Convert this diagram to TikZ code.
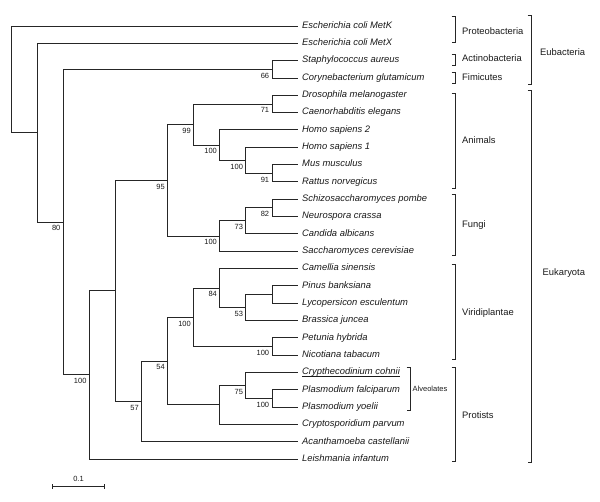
\documentclass[tikz,border=0pt]{standalone}
\usepackage{fontspec}
\setmainfont{Liberation Sans}
\usetikzlibrary{positioning}
\newcommand\ulname[1]{\setbox0\hbox{#1}\rlap{\rule[-1.3pt]{\wd0}{0.5pt}}\box0}
\tikzset{
  leaf/.style={anchor=west, inner xsep=4pt, inner ysep=0pt,
    text height=6.8pt, text depth=2pt,
    font=\fontsize{9.4}{11}\selectfont\itshape},
  boot/.style={anchor=north east, inner xsep=2.6pt, inner ysep=3.4pt,
    font=\fontsize{7.5}{9}\selectfont},
  clade/.style={anchor=west, inner sep=0pt, text height=6.8pt, text depth=2pt,
    font=\fontsize{9.4}{11}\selectfont},
  bracket/.style={draw, line width=0.8pt, black!85},
}

\begin{document}
\begin{tikzpicture}[x=1pt, y=-1pt, text=black!90,
    branch/.style={draw, line width=0.8pt, black!85,
      to path={|- (\tikztotarget) \tikztonodes}}]

      \useasboundingbox (0,0) rectangle (600,502);

      % --- Leaves ---
      \node[leaf] (metK) at (298,26.0) {Escherichia coli MetK};
      \node[leaf] (metX) at (298,43.3) {Escherichia coli MetX};
      \node[leaf] (staph) at (298,60.6) {Staphylococcus aureus};
      \node[leaf] (coryne) at (298,78.0) {Corynebacterium glutamicum};
      \node[leaf] (droso) at (298,95.3) {Drosophila melanogaster};
      \node[leaf] (caeno) at (298,112.6) {Caenorhabditis elegans};
      \node[leaf] (homoB) at (298,129.9) {Homo sapiens 2};
      \node[leaf] (homoA) at (298,147.2) {Homo sapiens 1};
      \node[leaf] (mus) at (298,164.6) {Mus musculus};
      \node[leaf] (rattus) at (298,181.9) {Rattus norvegicus};
      \node[leaf] (schizo) at (298,199.2) {Schizosaccharomyces pombe};
      \node[leaf] (neuro) at (298,216.5) {Neurospora crassa};
      \node[leaf] (candida) at (298,233.8) {Candida albicans};
      \node[leaf] (sacch) at (298,251.2) {Saccharomyces cerevisiae};
      \node[leaf] (camellia) at (298,268.5) {Camellia sinensis};
      \node[leaf] (pinus) at (298,285.8) {Pinus banksiana};
      \node[leaf] (lyco) at (298,303.1) {Lycopersicon esculentum};
      \node[leaf] (brassica) at (298,320.4) {Brassica juncea};
      \node[leaf] (petunia) at (298,337.8) {Petunia hybrida};
      \node[leaf] (nicotiana) at (298,355.1) {Nicotiana tabacum};
      \node[leaf] (crypthe) at (298,372.4) {\ulname{Crypthecodinium cohnii}};
      \node[leaf] (pfalc) at (298,389.7) {Plasmodium falciparum};
      \node[leaf] (pyoel) at (298,407.0) {Plasmodium yoelii};
      \node[leaf] (cparvum) at (298,424.4) {Cryptosporidium parvum};
      \node[leaf] (acanth) at (298,441.7) {Acanthamoeba castellanii};
      \node[leaf] (leish) at (298,459.0) {Leishmania infantum};

      % --- Inner nodes ---
      \coordinate (root) at (11,79.4);
      \coordinate (nA) at (37.1,132.7);
      \coordinate (nB) at (63.2,222.1);
      \coordinate (nC) at (271.9,69.3);
      \coordinate (nD) at (89.3,374.9);
      \coordinate (nE) at (115.4,290.8);
      \coordinate (nF) at (167.5,180.3);
      \coordinate (nG) at (141.5,401.4);
      \coordinate (nH) at (193.6,124.6);
      \coordinate (nI) at (219.7,236.0);
      \coordinate (nJ) at (271.9,104.0);
      \coordinate (nK) at (219.7,145.1);
      \coordinate (nL) at (245.8,160.2);
      \coordinate (nM) at (271.9,173.2);
      \coordinate (nN) at (245.8,220.8);
      \coordinate (nO) at (271.9,207.9);
      \coordinate (nP) at (167.5,361.0);
      \coordinate (nQ) at (193.6,317.2);
      \coordinate (nR) at (219.7,404.9);
      \coordinate (nS) at (219.7,288.0);
      \coordinate (nT) at (271.9,346.4);
      \coordinate (nU) at (245.8,307.5);
      \coordinate (nV) at (271.9,294.5);
      \coordinate (nW) at (245.8,385.4);
      \coordinate (nX) at (271.9,398.4);

      % --- Branches ---
      \path[branch]
      (root) edge (metK) edge (nA)
      (nA) edge (metX) edge (nB)
      (nB) edge (nC) edge (nD)
      (nC) edge (staph) edge (coryne)
      (nD) edge (nE) edge (leish)
      (nE) edge (nF) edge (nG)
      (nF) edge (nH) edge (nI)
      (nH) edge (nJ) edge (nK)
      (nJ) edge (droso) edge (caeno)
      (nK) edge (homoB) edge (nL)
      (nL) edge (homoA) edge (nM)
      (nM) edge (mus) edge (rattus)
      (nI) edge (nN) edge (sacch)
      (nN) edge (nO) edge (candida)
      (nO) edge (schizo) edge (neuro)
      (nG) edge (nP) edge (acanth)
      (nP) edge (nQ) edge (nR)
      (nQ) edge (nS) edge (nT)
      (nS) edge (camellia) edge (nU)
      (nU) edge (nV) edge (brassica)
      (nV) edge (pinus) edge (lyco)
      (nT) edge (petunia) edge (nicotiana)
      (nR) edge (nW) edge (cparvum)
      (nW) edge (crypthe) edge (nX)
      (nX) edge (pfalc) edge (pyoel);

      % --- Bootstrap values ---
      \node[boot] (bB) at (nB) {80};
      \node[boot] (bC) at (nC) {66};
      \node[boot] (bD) at (nD) {100};
      \node[boot] (bF) at (nF) {95};
      \node[boot] (bG) at (nG) {57};
      \node[boot] (bH) at (nH) {99};
      \node[boot] (bI) at (nI) {100};
      \node[boot] (bJ) at (nJ) {71};
      \node[boot] (bK) at (nK) {100};
      \node[boot] (bL) at (nL) {100};
      \node[boot] (bM) at (nM) {91};
      \node[boot] (bN) at (nN) {73};
      \node[boot] (bO) at (nO) {82};
      \node[boot] (bP) at (nP) {54};
      \node[boot] (bQ) at (nQ) {100};
      \node[boot] (bS) at (nS) {84};
      \node[boot] (bT) at (nT) {100};
      \node[boot] (bU) at (nU) {53};
      \node[boot] (bW) at (nW) {75};
      \node[boot] (bX) at (nX) {100};

      % --- Groups ---
      \draw[bracket] (451.5,16) -| (455,42) -- (451.5,42);
      \draw[bracket] (451.5,54) -| (455,65) -- (451.5,65);
      \draw[bracket] (451.5,72) -| (455,83) -- (451.5,83);
      \draw[bracket] (451.5,93) -| (455,188) -- (451.5,188);
      \draw[bracket] (451.5,194) -| (455,255) -- (451.5,255);
      \draw[bracket] (451.5,264) -| (455,359) -- (451.5,359);
      \draw[bracket] (451.5,367) -| (455,461) -- (451.5,461);
      \draw[bracket] (406.5,367) -| (410,410) -- (406.5,410);
      \draw[bracket] (527.5,15) -| (531,84) -- (527.5,84);
      \draw[bracket] (527.5,90) -| (531,462) -- (527.5,462);

      \node[clade] (proteo) at (462,31.7) {Proteobacteria};
      \node[clade] (actino) at (462,59.5) {Actinobacteria};
      \node[clade] (fimi) at (462,78.5) {Fimicutes};
      \node[clade] (animals) at (462,141.5) {Animals};
      \node[clade] (fungi) at (462,225.5) {Fungi};
      \node[clade] (viridi) at (462,313) {Viridiplantae};
      \node[clade] (protists) at (462,416.5) {Protists};
      \node[clade, font=\fontsize{7.5}{9}\selectfont] (alveo) at (412.5,389) {Alveolates};
      \node[clade] (eubac) at (540,53) {Eubacteria};
      \node[clade] (eukar) at (542.5,273) {Eukaryota};

      % --- Scale ---
      \coordinate (sbL) at (52.7,486.7);
      \coordinate (sbR) at (104.3,486.7);
      \draw[bracket] (sbL) -- (sbR);
      \draw[bracket] ([yshift=2.6pt]sbL) -- ([yshift=-2.6pt]sbL);
      \draw[bracket] ([yshift=2.6pt]sbR) -- ([yshift=-2.6pt]sbR);
      \node[font=\fontsize{7.5}{9}\selectfont, inner sep=0pt] (sbText) at (78.5,479) {0.1};

    \end{tikzpicture}
\end{document}
